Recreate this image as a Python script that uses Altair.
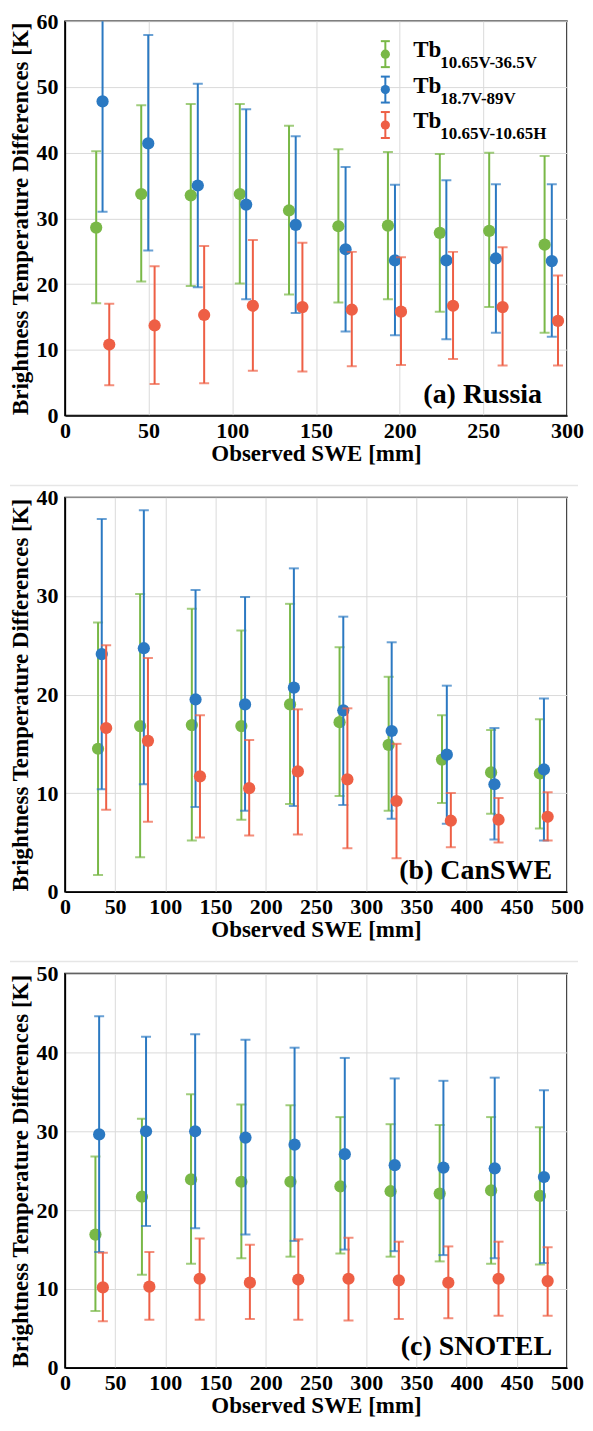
import altair as alt
import pandas as pd

SERIES = ["10.65V-36.5V", "18.7V-89V", "10.65V-10.65H"]
COLORS = ["#79B847", "#2B79C2", "#EE5F45"]
PANEL_LABELS = ["(a) Russia", "(b) CanSWE", "(c) SNOTEL"]
X_TITLE = "Observed SWE [mm]"
Y_TITLE = "Brightness Temperature Differences [K]"
FONT = "Liberation Serif"

# ---------------- (a) Russia ----------------
ru_g_x = [18.7, 45.6, 75.2, 104.5, 133.9, 163.4, 193.0, 224.0, 253.5, 286.6]
ru_g_m = [28.6, 33.7, 33.5, 33.7, 31.2, 28.8, 28.9, 27.8, 28.1, 26.0]
ru_g_lo = [17.1, 20.4, 19.7, 20.1, 18.4, 17.2, 17.7, 15.8, 16.5, 12.6]
ru_g_hi = [40.2, 47.2, 47.4, 47.4, 44.1, 40.5, 40.1, 39.8, 40.0, 39.5]

ru_b_x = [22.5, 49.8, 79.4, 108.3, 137.9, 167.7, 197.2, 227.9, 257.5, 290.9]
ru_b_m = [47.8, 41.4, 35.0, 32.1, 29.0, 25.3, 23.6, 23.6, 23.9, 23.5]
ru_b_lo = [31.0, 25.1, 19.5, 17.7, 15.6, 12.8, 12.2, 11.6, 12.6, 12.0]
ru_b_hi = [60.5, 57.9, 50.5, 46.6, 42.5, 37.8, 35.1, 35.8, 35.2, 35.2]

ru_r_x = [26.5, 53.6, 83.2, 112.3, 141.9, 171.4, 200.8, 231.9, 261.5, 294.6]
ru_r_m = [10.8, 13.7, 15.3, 16.7, 16.5, 16.1, 15.8, 16.7, 16.5, 14.4]
ru_r_lo = [4.6, 4.8, 4.9, 6.8, 6.7, 7.5, 7.7, 8.6, 7.6, 7.6]
ru_r_hi = [17.0, 22.7, 25.8, 26.7, 26.3, 24.9, 24.1, 24.9, 25.6, 21.3]

# ---------------- (b) CanSWE ----------------
ca_g_x = [33.0, 74.9, 126.4, 175.7, 224.2, 273.5, 322.4, 375.5, 424.4, 473.0]
ca_g_m = [14.5, 16.8, 16.9, 16.8, 19.0, 17.2, 14.9, 13.4, 12.1, 12.0]
ca_g_lo = [1.7, 3.5, 5.2, 7.3, 8.9, 9.7, 8.2, 9.0, 7.9, 6.4]
ca_g_hi = [27.3, 30.2, 28.7, 26.5, 29.2, 24.8, 21.8, 17.9, 16.4, 17.5]

ca_b_x = [36.7, 78.6, 130.1, 179.4, 228.0, 277.2, 325.4, 380.3, 427.7, 477.0]
ca_b_m = [24.1, 24.7, 19.5, 19.0, 20.7, 18.4, 16.3, 13.9, 10.9, 12.4]
ca_b_lo = [10.4, 10.9, 8.6, 8.2, 8.7, 8.8, 7.4, 6.9, 5.3, 5.2]
ca_b_hi = [37.8, 38.7, 30.6, 29.9, 32.8, 27.9, 25.3, 20.9, 16.6, 19.6]

ca_r_x = [41.1, 82.7, 134.5, 183.5, 232.0, 281.3, 330.2, 384.3, 431.8, 480.7]
ca_r_m = [16.6, 15.3, 11.7, 10.5, 12.2, 11.4, 9.2, 7.2, 7.3, 7.6]
ca_r_lo = [8.3, 7.1, 5.5, 5.7, 5.8, 4.4, 3.4, 4.5, 5.0, 5.2]
ca_r_hi = [25.0, 23.7, 17.9, 15.4, 18.5, 18.6, 15.0, 10.0, 9.5, 10.1]

# ---------------- (c) SNOTEL ----------------
sn_g_x = [30.4, 76.7, 125.6, 175.7, 224.6, 274.3, 324.3, 373.2, 424.4, 473.0]
sn_g_m = [16.9, 21.7, 23.9, 23.6, 23.6, 23.0, 22.4, 22.1, 22.5, 21.8]
sn_g_lo = [7.2, 11.8, 13.2, 13.9, 14.1, 14.5, 14.1, 13.5, 13.2, 13.1]
sn_g_hi = [26.8, 31.6, 34.7, 33.4, 33.3, 31.8, 30.9, 30.8, 31.8, 30.5]

sn_b_x = [34.1, 80.8, 129.7, 179.8, 228.7, 278.7, 328.4, 376.9, 428.0, 477.0]
sn_b_m = [29.6, 30.0, 30.0, 29.2, 28.3, 27.1, 25.7, 25.4, 25.3, 24.2]
sn_b_lo = [14.7, 18.0, 17.7, 16.9, 16.1, 15.0, 14.8, 14.3, 13.9, 13.3]
sn_b_hi = [44.6, 42.0, 42.3, 41.6, 40.6, 39.3, 36.7, 36.4, 36.8, 35.2]

sn_r_x = [37.8, 84.1, 134.2, 184.2, 232.4, 282.4, 332.5, 381.8, 431.8, 480.7]
sn_r_m = [10.2, 10.3, 11.3, 10.8, 11.2, 11.3, 11.1, 10.8, 11.3, 11.0]
sn_r_lo = [5.9, 6.1, 6.1, 6.2, 6.1, 6.0, 6.2, 6.3, 6.6, 6.6]
sn_r_hi = [14.6, 14.7, 16.4, 15.6, 16.3, 16.5, 16.0, 15.4, 16.0, 15.3]

W, H = 503, 395
color_scale = alt.Scale(domain=SERIES, range=COLORS)


def series_df(name, xs, ms, los, his):
    return pd.DataFrame({"series": name, "swe": xs, "mean": ms, "lo": los, "hi": his})


def series_layers(df, xscale, yscale):
    base = alt.Chart(df)
    col = alt.Color("series:N", scale=color_scale, legend=None)
    bar = base.mark_rule(strokeWidth=2, clip=True).encode(
        x=alt.X("swe:Q", scale=xscale), y=alt.Y("lo:Q", scale=yscale), y2="hi:Q", color=col)
    cap_lo = base.mark_tick(orient="horizontal", size=10, thickness=2, clip=True).encode(
        x=alt.X("swe:Q", scale=xscale), y=alt.Y("lo:Q", scale=yscale), color=col)
    cap_hi = base.mark_tick(orient="horizontal", size=10, thickness=2, clip=True).encode(
        x=alt.X("swe:Q", scale=xscale), y=alt.Y("hi:Q", scale=yscale), color=col)
    pts = base.mark_circle(size=150, opacity=1, clip=True).encode(
        x=alt.X("swe:Q", scale=xscale), y=alt.Y("mean:Q", scale=yscale), color=col)
    return [bar, cap_lo, cap_hi, pts]


def panel(series_data, xmax, ymax, label, label_x, with_legend=False, separator=False):
    xscale = alt.Scale(domain=[0, xmax], nice=False)
    yscale = alt.Scale(domain=[0, ymax], nice=False)
    xt = list(range(0, xmax + 1, 50))
    yt = list(range(0, ymax + 1, 10))
    axis_frame = alt.Chart(pd.DataFrame({"swe": [0], "mean": [0]})).mark_point(opacity=0).encode(
        x=alt.X("swe:Q", scale=xscale, title=X_TITLE, axis=alt.Axis(values=xt)),
        y=alt.Y("mean:Q", scale=yscale, title=Y_TITLE, axis=alt.Axis(values=yt)),
    )
    layers = [axis_frame]
    if separator:
        layers.append(alt.Chart(pd.DataFrame({"s": [label]})).mark_rule(
            color="#E6E6E6", strokeWidth=1.5).encode(
            x=alt.value(-55), x2=alt.value(514), y=alt.value(-12)))
    for name, (xs, ms, los, his) in zip(SERIES, series_data):
        layers += series_layers(series_df(name, xs, ms, los, his), xscale, yscale)
    lab = alt.Chart(pd.DataFrame({"t": [label]})).mark_text(
        align="right", baseline="alphabetic", font=FONT, fontSize=28, fontWeight="bold", color="black"
    ).encode(text="t:N", x=alt.value(label_x), y=alt.value(382))
    layers.append(lab)
    if with_legend:
        for i, (name, c) in enumerate(zip(SERIES, COLORS)):
            cy = 33 + 35.5 * i
            d = pd.DataFrame({"s": [name]})
            lg = alt.Chart(d)
            layers.append(lg.mark_rule(color=c, strokeWidth=2).encode(
                x=alt.value(321), y=alt.value(cy - 13), y2=alt.value(cy + 13)))
            layers.append(lg.mark_rule(color=c, strokeWidth=2).encode(
                x=alt.value(316.5), x2=alt.value(325.5), y=alt.value(cy - 13)))
            layers.append(lg.mark_rule(color=c, strokeWidth=2).encode(
                x=alt.value(316.5), x2=alt.value(325.5), y=alt.value(cy + 13)))
            layers.append(lg.mark_circle(color=c, size=85, opacity=1).encode(
                x=alt.value(321), y=alt.value(cy)))
            layers.append(lg.mark_text(text="Tb", align="left", baseline="alphabetic", font=FONT,
                                       fontSize=23, fontWeight="bold", color="black").encode(
                x=alt.value(349), y=alt.value(cy + 3)))
            layers.append(lg.mark_text(align="left", baseline="alphabetic", font=FONT,
                                       fontSize=17, fontWeight="bold", color="black").encode(
                text="s:N", x=alt.value(376), y=alt.value(cy + 14)))
    return alt.layer(*layers).properties(width=W, height=H)


pa = panel([(ru_g_x, ru_g_m, ru_g_lo, ru_g_hi), (ru_b_x, ru_b_m, ru_b_lo, ru_b_hi),
            (ru_r_x, ru_r_m, ru_r_lo, ru_r_hi)], 300, 60, PANEL_LABELS[0], 478, with_legend=True)
pb = panel([(ca_g_x, ca_g_m, ca_g_lo, ca_g_hi), (ca_b_x, ca_b_m, ca_b_lo, ca_b_hi),
            (ca_r_x, ca_r_m, ca_r_lo, ca_r_hi)], 500, 40, PANEL_LABELS[1], 488, separator=True)
pc = panel([(sn_g_x, sn_g_m, sn_g_lo, sn_g_hi), (sn_b_x, sn_b_m, sn_b_lo, sn_b_hi),
            (sn_r_x, sn_r_m, sn_r_lo, sn_r_hi)], 500, 50, PANEL_LABELS[2], 488, separator=True)

chart = alt.vconcat(pa, pb, pc, spacing=82, bounds="flush").properties(
    padding={"left": 0, "top": 0, "right": 0, "bottom": 0}
).configure_view(
    stroke="black", strokeWidth=1.5
).configure_axis(
    labelFont=FONT, labelFontSize=22, labelFontWeight="bold", labelColor="black",
    titleFont=FONT, titleFontSize=23, titleFontWeight="bold", titleColor="black",
    grid=True, gridColor="#DADADA", gridWidth=1, domainColor="black", domainWidth=1.5,
    ticks=False, labelFlush=False,
).configure_axisY(
    labelPadding=7, titlePadding=3,
).configure_axisX(
    labelPadding=5, titlePadding=1, titleFontSize=23,
)

chart.save("out.html", embed_options={"renderer": "svg", "actions": False})
